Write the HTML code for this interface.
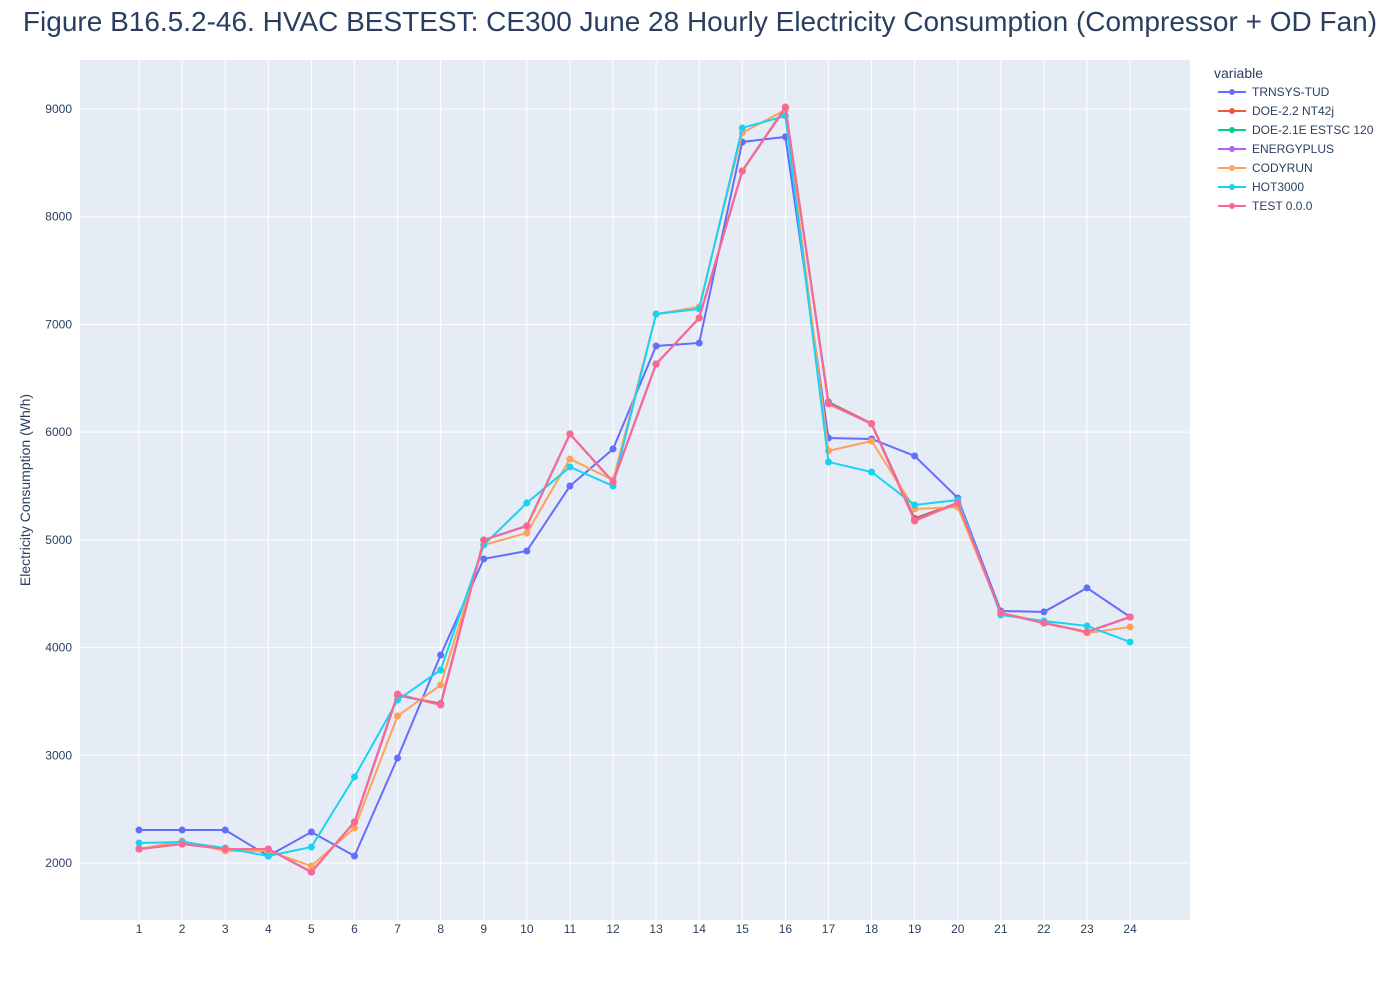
<!DOCTYPE html>
<html><head><meta charset="utf-8"><style>
body{margin:0;background:#fff;font-family:"Liberation Sans",sans-serif;}
svg text{font-family:"Liberation Sans",sans-serif;fill:#2a3f5f;}
</style></head><body>
<svg id="chart" width="1400" height="1000" xmlns="http://www.w3.org/2000/svg">
<text x="700" y="31" text-anchor="middle" font-size="28">Figure B16.5.2-46. HVAC BESTEST: CE300 June 28 Hourly Electricity Consumption (Compressor + OD Fan)</text>
<rect x="80" y="60" width="1110" height="860" fill="#e5ecf6"/>
<g id="grid"></g><g id="series"></g><g id="axes"></g><g id="legend"></g>
<text transform="translate(30,490) rotate(-90)" text-anchor="middle" font-size="14">Electricity Consumption (Wh/h)</text>
</svg>
<script>
const hours=[1,2,3,4,5,6,7,8,9,10,11,12,13,14,15,16,17,18,19,20,21,22,23,24];
const yTicks=[2000,3000,4000,5000,6000,7000,8000,9000];
const names=["TRNSYS-TUD","DOE-2.2 NT42j","DOE-2.1E ESTSC 120","ENERGYPLUS","CODYRUN","HOT3000","TEST 0.0.0"];
const colors=["#636efa","#EF553B","#00cc96","#ab63fa","#FFA15A","#19d3f3","#FF6692"];
const trnsys=[2306,2306,2306,2065,2288,2065,2975,3931,4823,4897,5500,5844,6800,6828,8694,8741,5946,5937,5779,5389,4340,4331,4554,4284];
const doe22=[2130,2176,2130,2130,1916,2381,3556,3480,4999,5129,5983,5538,6633,7060,8425,9010,6280,6080,5200,5343,4321,4228,4145,4284];
const doe21=[2130,2176,2130,2130,1916,2381,3560,3470,4999,5129,5983,5538,6633,7060,8425,9015,6270,6077,5185,5343,4321,4228,4145,4284];
const eplus=[2130,2176,2130,2130,1916,2381,3565,3468,4999,5129,5983,5538,6633,7060,8425,9017,6265,6077,5180,5343,4321,4228,4145,4284];
const codyrun=[2130,2204,2111,2111,1972,2325,3365,3653,4953,5064,5751,5556,7097,7163,8778,8992,5826,5918,5287,5305,4321,4237,4136,4191];
const hot3000=[2186,2195,2139,2065,2149,2799,3513,3792,4953,5343,5677,5500,7097,7144,8824,8936,5723,5630,5324,5370,4303,4247,4201,4052];
const test=[2130,2176,2130,2130,1916,2381,3569,3467,4999,5129,5983,5538,6633,7060,8425,9019,6262,6077,5175,5343,4321,4228,4145,4284];
const seriesData=[trnsys,doe22,doe21,eplus,codyrun,hot3000,test];
const NS="http://www.w3.org/2000/svg";
const X0=80,X1=1190,Y0=60,Y1=920,xMin=-0.37,xMax=25.39,yMin=1471,yMax=9455;
function xs(v){return X0+(v-xMin)/(xMax-xMin)*(X1-X0);}
function ys(v){return Y1-(v-yMin)/(yMax-yMin)*(Y1-Y0);}
function mk(t,a,p){const e=document.createElementNS(NS,t);for(const k in a)e.setAttribute(k,a[k]);p.appendChild(e);return e;}
const grid=document.getElementById('grid'),axes=document.getElementById('axes'),ser=document.getElementById('series'),leg=document.getElementById('legend');
hours.forEach(h=>{const l=mk('line',{x1:xs(h),x2:xs(h),y1:Y0,y2:Y1,stroke:'#fff','stroke-width':1},grid);


const t=mk('text',{x:xs(h),y:933,'text-anchor':'middle','font-size':12},axes);t.textContent=h;

});
yTicks.forEach(v=>{const l=mk('line',{x1:X0,x2:X1,y1:ys(v),y2:ys(v),stroke:'#fff','stroke-width':1},grid);


const t=mk('text',{x:72,y:ys(v)+4,'text-anchor':'end','font-size':12},axes);t.textContent=v;

});
seriesData.forEach((d,i)=>{const g=mk('g',{},ser);


const pl=mk('polyline',{points:d.map((v,j)=>xs(hours[j])+','+ys(v)).join(' '),fill:'none',stroke:colors[i],'stroke-width':2},g);


d.forEach((v,j)=>{const c=mk('circle',{cx:xs(hours[j]),cy:ys(v),r:3.5,fill:colors[i]},g);

});});
const lt=mk('text',{x:1214,y:78,'font-size':14},leg);lt.textContent='variable';


names.forEach((n,i)=>{const y=92+i*19;const g=mk('g',{},leg);


mk('line',{x1:1218,x2:1246,y1:y,y2:y,stroke:colors[i],'stroke-width':2},g);
mk('circle',{cx:1232,cy:y,r:3,fill:colors[i]},g);
const t=mk('text',{x:1252,y:y+4,'font-size':12},g);t.textContent=n;});
</script>
</body></html>
